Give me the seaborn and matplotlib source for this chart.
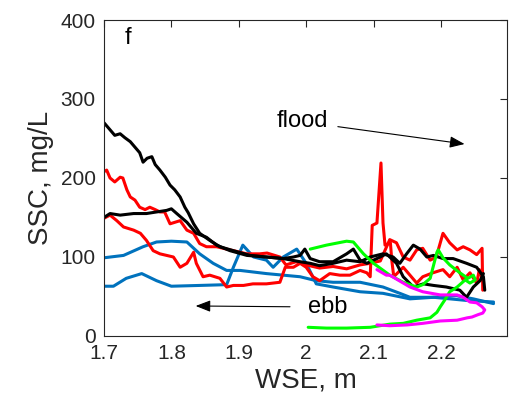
import matplotlib
matplotlib.use("Agg")
import matplotlib.pyplot as plt
import seaborn as sns
import pandas as pd

# ---------------- data ----------------
black1_x = [1.700, 1.709, 1.716, 1.724, 1.731, 1.739, 1.746, 1.753, 1.758, 1.764, 1.771, 1.776,
            1.783, 1.791, 1.798, 1.805, 1.813, 1.820, 1.825, 1.833, 1.842, 1.857, 1.872, 1.892,
            1.917, 1.941, 1.966, 1.981, 1.991, 1.998, 2.006, 2.020, 2.040, 2.060, 2.070, 2.080,
            2.090, 2.105, 2.119, 2.134, 2.144, 2.159, 2.174, 2.189, 2.208, 2.228, 2.238, 2.248,
            2.258, 2.263]
black1_y = [270, 261, 254, 256, 251, 246, 239, 232, 220, 225, 227, 217,
            210, 201, 191, 185, 176, 163, 156, 142, 130, 121, 113, 108,
            102, 100, 98, 100, 102, 110, 98, 94, 94, 104, 110, 96,
            92, 98, 104, 92, 75, 62, 66, 64, 62, 58, 49, 62,
            70, 79]

black2_x = [1.700, 1.709, 1.724, 1.744, 1.763, 1.778, 1.793, 1.800, 1.808, 1.823, 1.837, 1.852,
            1.867, 1.887, 1.912, 1.941, 1.966, 1.991, 2.006, 2.020, 2.040, 2.060, 2.080, 2.095,
            2.114, 2.129, 2.139, 2.149, 2.159, 2.169, 2.179, 2.189, 2.203, 2.218, 2.238, 2.253,
            2.263, 2.265]
black2_y = [150, 155, 153, 155, 155, 157, 159, 161, 155, 144, 130, 125,
            115, 108, 102, 100, 98, 94, 92, 89, 92, 96, 94, 100,
            104, 100, 92, 104, 115, 110, 100, 102, 98, 98, 92, 87,
            75, 58]

red1_x = [1.700, 1.704, 1.709, 1.716, 1.724, 1.728, 1.734, 1.739, 1.746, 1.753, 1.761, 1.768,
          1.776, 1.783, 1.790, 1.798, 1.813, 1.823, 1.833, 1.842, 1.852, 1.867, 1.882, 1.892,
          1.912, 1.931, 1.942, 1.961, 1.970, 1.985, 2.000, 2.020, 2.040, 2.060, 2.080, 2.095,
          2.110, 2.124, 2.134, 2.144, 2.154, 2.164, 2.173, 2.184, 2.191, 2.194, 2.203, 2.213,
          2.224, 2.233, 2.243, 2.253, 2.261, 2.262]
red1_y = [208, 210, 200, 195, 201, 200, 185, 176, 172, 163, 160, 163,
          160, 157, 157, 142, 146, 134, 130, 117, 113, 113, 110, 108,
          104, 104, 105, 100, 90, 94, 90, 86, 88, 85, 90, 92,
          95, 122, 118, 100, 96, 109, 111, 96, 99, 103, 130, 118,
          109, 113, 109, 103, 111, 58]

red3_x = [1.700, 1.709, 1.719, 1.729, 1.744, 1.754, 1.763, 1.773, 1.783, 1.793, 1.803, 1.813,
          1.823, 1.833, 1.837, 1.847, 1.857, 1.872, 1.882, 1.892, 1.907, 1.921, 1.941, 1.961,
          1.969, 1.981, 1.991, 2.000, 2.010, 2.020, 2.035, 2.050, 2.065, 2.080, 2.090, 2.095,
          2.098, 2.105, 2.111, 2.114, 2.117, 2.125, 2.127, 2.130, 2.144, 2.164, 2.173, 2.188,
          2.203, 2.213, 2.224, 2.233, 2.243, 2.253, 2.257, 2.262]
red3_y = [149, 153, 146, 138, 134, 130, 121, 108, 104, 102, 100, 87,
          92, 106, 92, 75, 77, 73, 62, 64, 64, 66, 66, 68,
          87, 87, 92, 87, 75, 70, 79, 77, 77, 83, 80, 75,
          140, 143, 219, 143, 115, 118, 96, 75, 87, 67, 75, 80,
          84, 75, 87, 71, 80, 67, 84, 70]

blue1_x = [1.700, 1.729, 1.758, 1.778, 1.800, 1.823, 1.842, 1.862, 1.882, 1.902, 1.941, 1.991,
           2.015, 2.040, 2.080, 2.114, 2.139, 2.154, 2.189, 2.223, 2.248, 2.278]
blue1_y = [99, 102, 113, 119, 120, 119, 104, 92, 83, 83, 79, 75,
           70, 68, 68, 62, 54, 49, 49, 51, 47, 41]

blue2_x = [1.700, 1.714, 1.733, 1.756, 1.778, 1.800, 1.842, 1.882, 1.892, 1.906, 1.922, 1.941,
           1.951, 1.966, 1.986, 2.000, 2.015, 2.040, 2.080, 2.114, 2.154, 2.189, 2.238, 2.278]
blue2_y = [63, 63, 73, 79, 70, 63, 64, 65, 87, 115, 100, 96,
           87, 100, 110, 92, 66, 62, 56, 54, 47, 49, 45, 43]

green_x = [2.006, 2.030, 2.060, 2.070, 2.085, 2.100, 2.124, 2.144, 2.164, 2.173, 2.184, 2.194,
           2.196, 2.203, 2.213, 2.228, 2.240, 2.248, 2.251, 2.243, 2.236, 2.224, 2.213, 2.206,
           2.199, 2.194, 2.184, 2.164, 2.144, 2.124, 2.095, 2.060, 2.030, 2.003]
green_y = [110, 115, 120, 119, 104, 92, 77, 68, 62, 65, 73, 106,
           109, 99, 90, 80, 73, 77, 71, 67, 71, 62, 56, 46,
           37, 30, 23, 20, 16, 15, 11, 10, 10, 11]

magenta_x = [2.105, 2.119, 2.124, 2.154, 2.173, 2.199, 2.224, 2.233, 2.243, 2.253, 2.261, 2.265,
             2.262, 2.255, 2.246, 2.239, 2.224, 2.199, 2.173, 2.150, 2.124, 2.105]
magenta_y = [84, 77, 77, 62, 56, 52, 52, 49, 43, 42, 37, 33,
             29, 27, 24, 23, 20, 19, 16, 14, 13, 14]

series = [
    ("blue1", blue1_x, blue1_y, "#0072BD"),
    ("blue2", blue2_x, blue2_y, "#0072BD"),
    ("red1", red1_x, red1_y, "#FF0000"),
    ("red3", red3_x, red3_y, "#FF0000"),
    ("black1", black1_x, black1_y, "#000000"),
    ("black2", black2_x, black2_y, "#000000"),
    ("green", green_x, green_y, "#00FF00"),
    ("magenta", magenta_x, magenta_y, "#FF00FF"),
]

x_ticks = [1.7, 1.8, 1.9, 2.0, 2.1, 2.2]
x_tick_labels = ["1.7", "1.8", "1.9", "2", "2.1", "2.2"]
y_ticks = [0, 100, 200, 300, 400]

# ---------------- plotting ----------------
sns.set_style("white")
plt.rcParams['font.family'] = ['Liberation Sans', 'DejaVu Sans']

fig = plt.figure(figsize=(5.14, 4.09), dpi=100)
ax = fig.add_axes([0.2023, 0.1785, 0.7841, 0.7726])

for name, xs, ys, col in series:
    df = pd.DataFrame({"x": xs, "y": ys})
    sns.lineplot(data=df, x="x", y="y", sort=False, estimator=None,
                 color=col, linewidth=2.2, ax=ax)

ax.set_xlim(1.7, 2.298)
ax.set_ylim(0, 400)
ax.set_xticks(x_ticks)
ax.set_xticklabels(x_tick_labels)
ax.set_yticks(y_ticks)

txt = "#262626"
ax.tick_params(direction="in", length=5, width=0.8, top=True, right=True,
               labelsize=15, colors=txt, pad=6)
for s in ax.spines.values():
    s.set_color(txt)
    s.set_linewidth(0.8)

ax.set_xlabel("WSE, m", fontsize=20, color=txt, labelpad=3)
ax.set_ylabel("SSC, mg/L", fontsize=20, color=txt, labelpad=5)

ax.text(1.730, 377, "f", fontsize=17, color="black", ha="left", va="center")
ax.text(1.995, 272, "flood", fontsize=17, color="black", ha="center", va="center")
ax.text(2.032, 37, "ebb", fontsize=17, color="black", ha="center", va="center")

ax.annotate("", xy=(2.235, 243), xytext=(2.047, 265),
            arrowprops=dict(arrowstyle="-|>,head_length=0.9,head_width=0.35",
                            color="black", lw=0.8, shrinkA=0, shrinkB=0))
ax.annotate("", xy=(1.836, 38), xytext=(1.976, 37),
            arrowprops=dict(arrowstyle="-|>,head_length=0.9,head_width=0.35",
                            color="black", lw=0.8, shrinkA=0, shrinkB=0))

fig.savefig("out.png", dpi=100)
